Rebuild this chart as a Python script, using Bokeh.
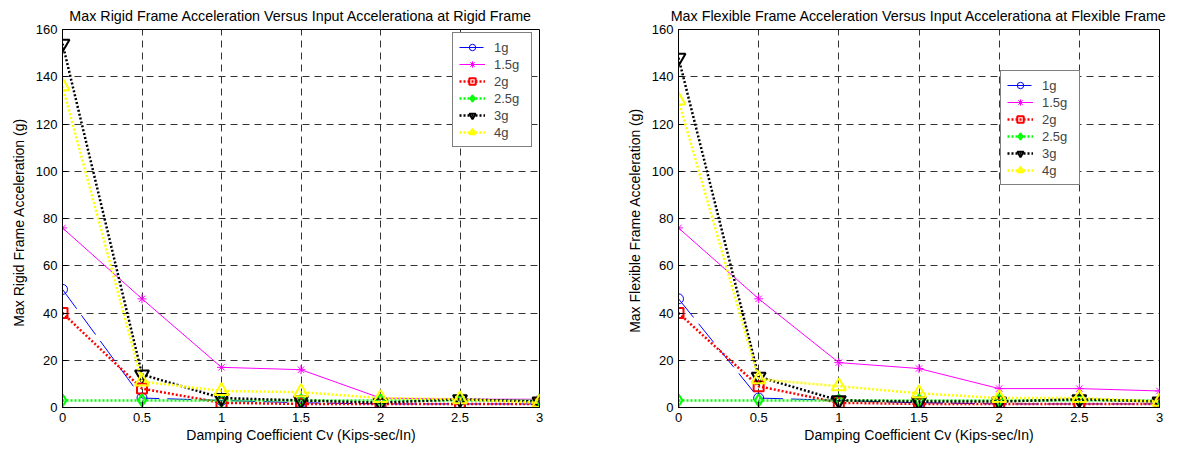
from bokeh.plotting import figure
from bokeh.models import (Legend, LegendItem, FixedTicker,
                          CustomJSTickFormatter, Range1d)
from bokeh.layouts import row
from bokeh.embed import file_html
from bokeh.resources import INLINE

# ---------------- data ----------------
damping = [0, 0.5, 1, 1.5, 2, 2.5, 3]
series_names = ["1g", "1.5g", "2g", "2.5g", "3g", "4g"]

rigid_1g = [50, 4, 3, 2, 1.5, 1.5, 1.5]
rigid_1_5g = [76, 46, 17, 16, 4, 3.5, 3.5]
rigid_2g = [40, 8, 2, 1.5, 1.5, 1.5, 1.5]
rigid_2_5g = [3, 3, 3, 3, 3, 3, 3]
rigid_3g = [154, 14, 4, 3, 2, 3.5, 2.5]
rigid_4g = [136, 11, 7, 6.5, 4, 3.5, 2]

flex_1g = [46, 4, 3, 2, 1.5, 1.5, 1.5]
flex_1_5g = [76, 46, 19, 16.5, 8, 8, 7]
flex_2g = [40, 9, 2, 1.5, 1.5, 1.5, 1.5]
flex_2_5g = [3, 3, 3, 3, 3, 3, 3]
flex_3g = [148, 13, 3, 2.5, 2.5, 3.5, 2.5]
flex_4g = [130, 12, 9, 6, 4, 4, 2.5]

x_ticks = [0, 0.5, 1, 1.5, 2, 2.5, 3]
y_ticks = [0, 20, 40, 60, 80, 100, 120, 140, 160]

rigid_series = [rigid_1g, rigid_1_5g, rigid_2g, rigid_2_5g, rigid_3g, rigid_4g]
flex_series = [flex_1g, flex_1_5g, flex_2g, flex_2_5g, flex_3g, flex_4g]

# ---------------- styles ----------------
FONT = "Liberation Sans"
styles = [
    dict(color="#0000ff", dash="24 8", lw=1, marker="circle", size=10, mlw=1),
    dict(color="#ff00ff", dash="solid", lw=1, marker="asterisk", size=9, mlw=1),
    dict(color="#ff0000", dash="2 2", lw=2.5, marker="square", size=10, mlw=2),
    dict(color="#00ff00", dash="2 2", lw=2.5, marker="diamond", size=12, mlw=2),
    dict(color="#000000", dash="2 2", lw=2.5, marker="inverted_triangle", size=14, mlw=2),
    dict(color="#ffff00", dash="2 2", lw=2.5, marker="triangle", size=14, mlw=2),
]


def make_plot(title, ylabel, series, legend_loc, bl, fw, br):
    p = figure(width=bl + fw + br, height=449,
               x_range=Range1d(0, 3), y_range=Range1d(0, 160),
               output_backend="svg", toolbar_location=None,
               min_border_left=bl, min_border_right=br,
               min_border_top=29, min_border_bottom=42,
               title=title)
    p.title.text_font = FONT
    p.title.text_font_size = "14.3px"
    p.title.text_font_style = "normal"
    p.title.text_color = "black"
    p.title.align = "center"
    p.title.standoff = 11
    p.outline_line_color = "black"
    p.outline_line_width = 1
    p.background_fill_color = "white"
    p.border_fill_color = "white"

    xt = FixedTicker(ticks=x_ticks)
    yt = FixedTicker(ticks=y_ticks)

    p.xaxis.ticker = xt
    p.yaxis.ticker = yt
    p.xaxis.formatter = CustomJSTickFormatter(code="return String(tick)")
    p.xaxis.axis_label = "Damping Coefficient Cv (Kips-sec/In)"
    p.yaxis.axis_label = ylabel
    for ax in (p.xaxis[0], p.yaxis[0]):
        ax.major_tick_in = 5
        ax.major_tick_out = 0
        ax.minor_tick_line_color = None
        ax.axis_line_color = "black"
        ax.major_tick_line_color = "black"
        ax.major_label_text_font = FONT
        ax.major_label_text_font_size = "13px"
        ax.major_label_text_color = "black"
        ax.axis_label_text_font = FONT
        ax.axis_label_text_font_size = "14px"
        ax.axis_label_text_font_style = "normal"
        ax.axis_label_text_color = "black"
        ax.major_label_standoff = 5
    p.xaxis.axis_label_standoff = 2
    p.yaxis.axis_label_standoff = 6

    p.xgrid.ticker = xt
    p.ygrid.ticker = yt
    p.grid.grid_line_color = "#333333"
    p.grid.grid_line_dash = "7 5"
    p.grid.grid_line_width = 1

    items = []
    for name, ys, st in zip(series_names, series, styles):
        r1 = p.line(damping, ys, line_color=st["color"], line_dash=st["dash"],
                    line_width=st["lw"])
        r2 = p.scatter(damping, ys, marker=st["marker"], size=st["size"],
                       line_color=st["color"], fill_color=None,
                       line_width=st["mlw"])
        items.append(LegendItem(label=name, renderers=[r1, r2]))

    legend = Legend(items=items, location=legend_loc)
    legend.label_text_font = FONT
    legend.label_text_font_size = "13px"
    legend.glyph_width = 26
    legend.glyph_height = 16
    legend.label_height = 16
    legend.label_width = 31
    legend.spacing = 1
    legend.padding = 6
    legend.margin = 0
    legend.label_standoff = 9
    legend.border_line_color = "black"
    legend.border_line_width = 1
    legend.background_fill_alpha = 1
    p.add_layout(legend, "center")
    return p


p1 = make_plot("Max Rigid Frame Acceleration Versus Input Accelerationa at Rigid Frame",
               "Max Rigid  Frame Acceleration  (g)", rigid_series, (390, 260), 62, 477, 69)
p2 = make_plot("Max Flexible Frame Acceleration Versus Input Accelerationa at Flexible Frame",
               "Max Flexible Frame Acceleration  (g)", flex_series, (322, 222), 70, 481, 15)

layout = row(p1, p2)
open("out.html", "w").write(file_html(layout, INLINE))
